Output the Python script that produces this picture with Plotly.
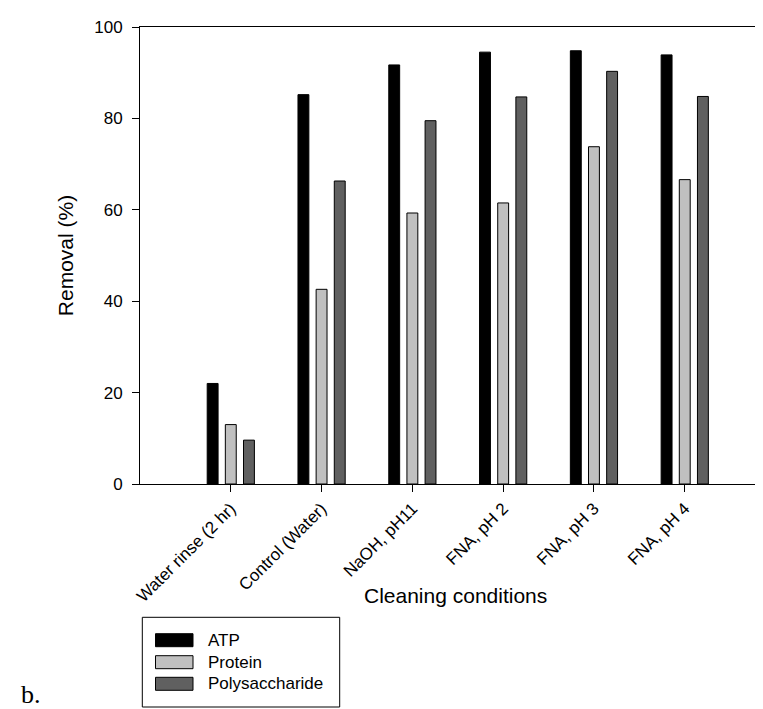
import plotly.graph_objects as go

# ---- data ----
categories = ["Water rinse (2 hr)", "Control (Water)", "NaOH, pH11",
              "FNA, pH 2", "FNA, pH 3", "FNA, pH 4"]
series_names = ["ATP", "Protein", "Polysaccharide"]
atp = [22.0, 85.2, 91.7, 94.5, 94.8, 93.9]
protein = [13.0, 42.6, 59.3, 61.5, 73.8, 66.6]
polysaccharide = [9.6, 66.3, 79.5, 84.7, 90.3, 84.8]
y_ticks = [0, 20, 40, 60, 80, 100]

colors = ["#000000", "#c0c0c0", "#606060"]
series_values = [atp, protein, polysaccharide]

W, H = 763, 709
ML, MR, MT, MB = 132, 0, 19, 233
PW = W - ML - MR
PH = H - MT - MB
BOTTOM = H - MB


def fx(p):
    return (p - ML) / PW


def fy(p):
    return (BOTTOM - p) / PH


FONT = "Liberation Sans, Arial, sans-serif"

fig = go.Figure()
for name, vals, col in zip(series_names, series_values, colors):
    fig.add_trace(go.Bar(
        x=categories, y=vals, name=name,
        marker=dict(color=col, line=dict(color="#000000", width=1)),
        showlegend=False,
    ))

# custom legend (box with wide swatches)
shapes = [dict(type="rect", xref="paper", yref="paper",
               x0=fx(134.3), x1=fx(331.7), y0=fy(699), y1=fy(609.3),
               line=dict(color="#000000", width=1), fillcolor="white")]
annotations = []
row_tops = [625.7, 647.7, 669.3]
for name, col, top in zip(series_names, colors, row_tops):
    shapes.append(dict(type="rect", xref="paper", yref="paper",
                       x0=fx(147.5), x1=fx(185), y0=fy(top + 13), y1=fy(top),
                       line=dict(color="#000000", width=1), fillcolor=col))
    annotations.append(dict(text=name, xref="paper", yref="paper",
                            x=fx(198), y=fy(top + 6.5), xanchor="left",
                            yanchor="middle", showarrow=False,
                            font=dict(family=FONT, size=17, color="#000000")))

annotations.append(dict(text="Cleaning conditions", xref="paper", yref="paper",
                        x=0.5, y=fy(587), xanchor="center", yanchor="middle",
                        showarrow=False,
                        font=dict(family=FONT, size=21, color="#000000")))
annotations.append(dict(text="b.", xref="paper", yref="paper",
                        x=fx(11), y=fy(686), xanchor="left", yanchor="middle",
                        showarrow=False,
                        font=dict(family="Liberation Serif, Times New Roman, serif",
                                  size=26, color="#000000")))

fig.update_layout(
    width=W, height=H,
    margin=dict(l=ML, r=MR, t=MT, b=MB),
    plot_bgcolor="white", paper_bgcolor="white",
    barmode="group", bargap=0.4, bargroupgap=0.4,
    font=dict(family=FONT, size=17, color="#000000"),
    shapes=shapes, annotations=annotations,
    xaxis=dict(
        type="category", range=[-1, 5.95],
        showline=True, linecolor="#000000", linewidth=1, mirror=True,
        ticks="outside", ticklen=7, tickcolor="#000000", tickwidth=1,
        tickangle=-45, showgrid=False, zeroline=False,
        tickfont=dict(family=FONT, size=17, color="#000000"),
    ),
    yaxis=dict(
        range=[0, 100], tickvals=y_ticks,
        showline=True, linecolor="#000000", linewidth=1,
        ticks="outside", ticklen=7, tickcolor="#000000", tickwidth=1,
        ticklabelstandoff=6,
        showgrid=False, zeroline=False,
        tickfont=dict(family=FONT, size=17, color="#000000"),
        title=dict(text="Removal (%)", standoff=14,
                   font=dict(family=FONT, size=21, color="#000000")),
    ),
)

fig.write_html("out.html")
